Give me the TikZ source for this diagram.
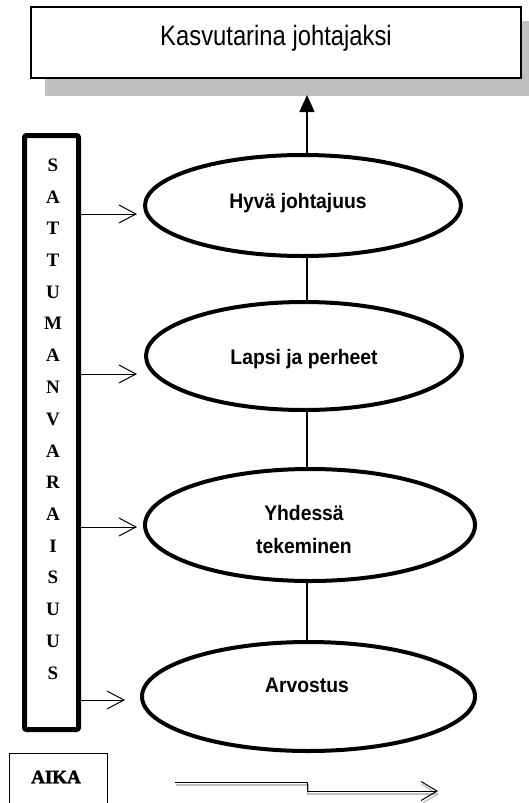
\documentclass[tikz,border=0pt]{standalone}
\usepackage{fontspec}
\setmainfont{Liberation Sans}
\newfontfamily\titlefont[FakeStretch=0.85]{Liberation Sans}
\newfontfamily\ovalfont[FakeStretch=0.92]{Liberation Sans}
\newfontfamily\serifbold[UprightFont={* Bold}]{Liberation Serif}
\newfontfamily\aikafont[UprightFont={* Bold},FakeBold=2]{Liberation Serif}
\usetikzlibrary{shapes.geometric,arrows.meta}
\definecolor{shadowgray}{RGB}{192,192,192}
\tikzset{
  oval/.style={ellipse, draw, line width=4pt, inner sep=0pt},
  ovaltext/.style={font=\ovalfont\bfseries\fontsize{21}{33}\selectfont, anchor=base, inner sep=0pt, align=center},
  letter/.style={font=\serifbold\fontsize{19}{19}\selectfont, inner sep=0pt},
  sidearrow/.style={line width=1pt, -{Straight Barb[length=17pt,width=18pt,line width=1pt]}},
  link/.style={line width=1.2pt},
}
\begin{document}
\begin{tikzpicture}[x=1pt,y=-1pt]
\useasboundingbox (0,0) rectangle (529,803);
% title with shadow
\fill[shadowgray] (45,21) rectangle (537,96);
\node[draw, fill=white, line width=2pt, minimum width=490pt, minimum height=71pt, inner sep=0pt] (title) at (276,42.5) {};
\node[anchor=base, inner sep=0pt, font=\titlefont\fontsize{28}{32}\selectfont] (titletext) at (276,45) {Kasvutarina johtajaksi};
% ellipses
\node[oval, minimum width=316pt, minimum height=101pt] (hyva) at (303,205.5) {};
\node[oval, minimum width=316pt, minimum height=108pt] (lapsi) at (304,356) {};
\node[oval, minimum width=330pt, minimum height=112pt] (yhd) at (310,525) {};
\node[oval, minimum width=333pt, minimum height=109pt] (arv) at (308.5,696.5) {};
\node[ovaltext] (hyvat) at (298,208) {Hyvä johtajuus};
\node[ovaltext] (lapsit) at (304,364) {Lapsi ja perheet};
\node[ovaltext] (yhdt) at (304,553) {Yhdessä\\tekeminen};
\node[ovaltext] (arvt) at (307,692) {Arvostus};
% vertical links
\coordinate (mid) at (307,0);
\coordinate (tiptop) at (307,95);
\draw[line width=1.5pt, -{Triangle[length=17pt,width=15pt]}] (hyva.north -| mid) -- (tiptop);
\draw[link] (hyva.south -| mid) -- (lapsi.north -| mid);
\draw[link] (lapsi.south -| mid) -- (yhd.north -| mid);
\draw[link] (yhd.south -| mid) -- (arv.north -| mid);
% left column box
\node[draw, line width=5pt, rounded corners=2pt, minimum width=54pt, minimum height=594pt, inner sep=0pt] (sbox) at (51.5,432.5) {};
\foreach \c [count=\i from 0] in {S,A,T,T,U,M,A,N,V,A,R,A,I,S,U,U,S}
  \node[letter] (ltr\i) at (53,{165+31.75*\i}) {\c};
% side arrows
\coordinate (a1) at (137,214);
\coordinate (a2) at (137,374);
\coordinate (a3) at (137,527);
\coordinate (a4) at (125,700);
\draw[sidearrow] (sbox.east |- a1) -- (a1);
\draw[sidearrow] (sbox.east |- a2) -- (a2);
\draw[sidearrow] (sbox.east |- a3) -- (a3);
\draw[sidearrow] (sbox.east |- a4) -- (a4);
% AIKA
\node[draw, line width=1pt, minimum width=98pt, minimum height=50pt, inner sep=0pt] (aika) at (58,778) {};
\node[inner sep=0pt, font=\aikafont\fontsize{19}{19}\selectfont] (aikat) at (56,777) {AIKA};
% time arrow
\coordinate (t1) at (175,782);
\coordinate (t2) at (438,791);
\draw[shadowgray, line width=1.3pt, -{Straight Barb[length=16pt,width=19pt,line width=1.3pt]}] ([shift={(1,3)}]t1) -- ([shift={(1,3)}]t1 -| mid) -- ([shift={(1,3)}]t2 -| mid) -- ([shift={(1,3)}]t2);
\draw[line width=1pt, -{Straight Barb[length=16pt,width=19pt,line width=1pt]}] (t1) -- (t1 -| mid) -- (t2 -| mid) -- (t2);
\end{tikzpicture}
\end{document}
